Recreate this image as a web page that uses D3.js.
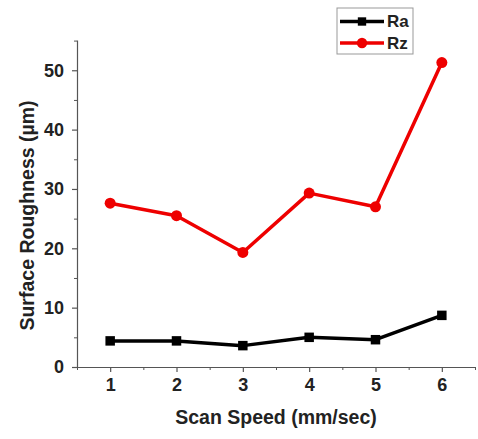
<!DOCTYPE html>
<html>
<head>
<meta charset="utf-8">
<script src="https://cdn.jsdelivr.net/npm/d3@7"></script>
<style>
  body { margin: 0; background: #fff; }
  svg { display: block; font-family: "Liberation Sans", Arial, sans-serif; }
</style>
</head>
<body>
<div id="chart"></div>
<script>
// data
var speeds = [1, 2, 3, 4, 5, 6];
var ra = [4.4, 4.4, 3.6, 5.0, 4.6, 8.7];
var rz = [27.6, 25.5, 19.3, 29.3, 27.0, 51.3];
var yTicks = [0, 10, 20, 30, 40, 50];
var xTicks = [1, 2, 3, 4, 5, 6];

var W = 478, H = 439;
var margin = { top: 40, right: 3, bottom: 72, left: 77 },
    width = W - margin.left - margin.right,
    height = H - margin.top - margin.bottom;

var svg = d3.select("#chart")
    .append("svg")
    .attr("width", W)
    .attr("height", H)
    .append("g")
    .attr("transform", `translate(${margin.left} ${margin.top})`);

var x = d3.scaleLinear().domain([0.5, 6.5]).range([0, width]);
var y = d3.scaleLinear().domain([0, 55.1]).range([height, 0]);

var axisColor = "#555";

// minor ticks
svg.append("g")
    .attr("transform", `translate(0, ${height})`)
    .call(d3.axisBottom(x).tickValues(d3.range(0.5, 6.6, 1)).tickSize(3).tickFormat(""))
    .call(g => g.select(".domain").remove())
    .selectAll("line").attr("stroke", axisColor);
svg.append("g")
    .call(d3.axisLeft(y).tickValues(d3.range(5, 56, 10)).tickSize(3).tickFormat(""))
    .call(g => g.select(".domain").remove())
    .selectAll("line").attr("stroke", axisColor);

// main axes
var xAxis = svg.append("g")
    .attr("transform", `translate(0, ${height})`)
    .call(d3.axisBottom(x).tickValues(xTicks).tickSize(5).tickSizeOuter(0).tickPadding(6).tickFormat(d3.format("d")));
var yAxis = svg.append("g")
    .call(d3.axisLeft(y).tickValues(yTicks).tickSize(5).tickSizeOuter(0).tickPadding(8));

[xAxis, yAxis].forEach(function (g) {
    g.select(".domain").attr("stroke", axisColor).attr("stroke-width", 1.2);
    g.selectAll(".tick line").attr("stroke", axisColor).attr("stroke-width", 1.2);
    g.selectAll(".tick text")
        .attr("fill", "#222")
        .attr("font-size", 18)
        .attr("font-weight", "bold");
});

// lines
var series = [
    { name: "Ra", values: ra, color: "#000000", marker: "square" },
    { name: "Rz", values: rz, color: "#ee0000", marker: "circle" }
];

var line = d3.line()
    .x(function (d, i) { return x(speeds[i]); })
    .y(function (d) { return y(d); });

series.forEach(function (s) {
    svg.append("path")
        .datum(s.values)
        .attr("fill", "none")
        .attr("stroke", s.color)
        .attr("stroke-width", 3.5)
        .attr("stroke-linejoin", "round")
        .attr("d", line);

    var sym = d3.symbol().type(s.marker == "square" ? d3.symbolSquare : d3.symbolCircle).size(s.marker == "square" ? 90 : 95);
    svg.append("g")
        .selectAll("path")
        .data(s.values)
        .enter().append("path")
        .attr("transform", function (d, i) { return `translate(${x(speeds[i])} ${y(d)})`; })
        .attr("d", sym)
        .attr("fill", s.color);
});

// axis titles
svg.append("text")
    .attr("x", width / 2)
    .attr("y", height + 57)
    .attr("text-anchor", "middle")
    .attr("font-size", 19.5)
    .attr("font-weight", "bold")
    .attr("fill", "#222")
    .text("Scan Speed (mm/sec)");

svg.append("text")
    .attr("transform", `translate(${-43} ${height / 2 + 12}) rotate(-90)`)
    .attr("text-anchor", "middle")
    .attr("font-size", 19.5)
    .attr("font-weight", "bold")
    .attr("fill", "#222")
    .text("Surface Roughness (µm)");

// legend
var legend = svg.append("g")
    .attr("transform", `translate(${337 - margin.left} ${8 - margin.top})`);

legend.append("rect")
    .attr("width", 76)
    .attr("height", 46)
    .attr("fill", "#fff")
    .attr("stroke", "#999")
    .attr("stroke-width", 1);

var item = legend.selectAll("g.item")
    .data(series)
    .enter().append("g")
    .attr("class", "item")
    .attr("transform", function (d, i) { return `translate(0 ${13.5 + i * 21.5})`; });

item.append("line")
    .attr("x1", 3).attr("x2", 47)
    .attr("stroke", function (d) { return d.color; })
    .attr("stroke-width", 3.5);

item.append("path")
    .attr("transform", "translate(25 0)")
    .attr("d", function (d) {
        return d3.symbol().type(d.marker == "square" ? d3.symbolSquare : d3.symbolCircle).size(d.marker == "square" ? 70 : 85)();
    })
    .attr("fill", function (d) { return d.color; });

item.append("text")
    .attr("x", 50)
    .attr("dy", "0.35em")
    .attr("font-size", 17)
    .attr("font-weight", "bold")
    .attr("fill", "#222")
    .text(function (d) { return d.name; });
</script>
</body>
</html>
